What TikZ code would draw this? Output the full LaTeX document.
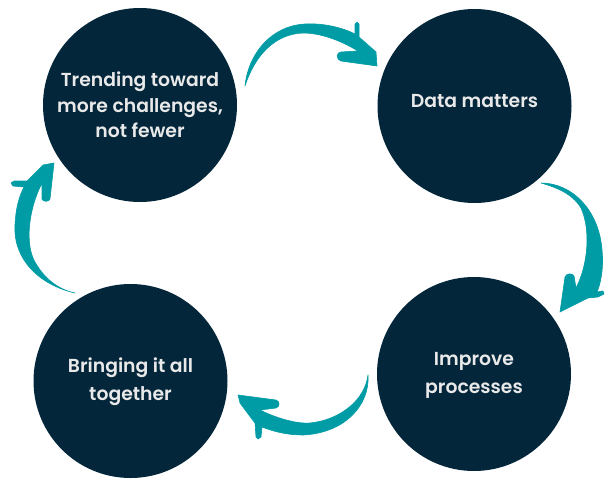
\documentclass[tikz,border=0pt]{standalone}
\usepackage{fontspec}
\setmainfont{Poppins SemiBold}
\definecolor{navy}{HTML}{03263B}
\definecolor{teal}{HTML}{009CA6}
\definecolor{txt}{HTML}{E9E9E9}
\newcommand{\stacktxt}[2]{\raisebox{#1}{\begin{tabular}{@{}c@{}}#2\end{tabular}}}
\begin{document}
\begin{tikzpicture}[x=1pt,y=-1pt,
  stage/.style={circle,fill=navy,minimum size=194pt,inner sep=0pt,text=txt,
    align=center,font=\fontsize{18.8}{28}\selectfont},
  brush/.style={fill=teal,draw=teal,line width=0.6pt,line join=round}]
\useasboundingbox (0,0) rectangle (610,488);
\node[stage,font=\fontsize{18.8}{25.5}\selectfont] (trend) at (140,105) {Trending toward\\more challenges,\\not fewer};
\node[stage] (data) at (474.5,106) {\raisebox{10pt}{Data matters}};
\node[stage] (improve) at (474,374) {\stacktxt{-2pt}{Improve\\processes}};
\node[stage] (bring) at (130.5,381) {\stacktxt{-3pt}{Bringing it all\\together}};
% arrow trend -> data
\fill[brush] (245,86) .. controls (248,55) and (270,26) .. (305,24)
  .. controls (325,23) and (343,28) .. (355,34) -- (355,24) -- (357,22) -- (359,24)
  -- (359,37) -- (376,52) -- (377,66) -- (341,61) .. controls (336,60) and (336,52) .. (341,52)
  -- (358,51) .. controls (340,40) and (320,33) .. (303,33)
  .. controls (275,34) and (255,55) .. (245,86) -- cycle;
% arrow data -> improve
\fill[brush] (541,183) .. controls (572,183) and (599,210) .. (602,250)
  .. controls (604,270) and (600,285) .. (597,292) -- (603,291) -- (604,294) -- (598,297)
  -- (588,298) -- (560,312) -- (565,277) .. controls (566,273) and (573,273) .. (574,276)
  -- (576,288) .. controls (588,265) and (591,230) .. (581,208)
  .. controls (572,193) and (555,187) .. (541,183) -- cycle;
% arrow improve -> bring
\fill[brush] (368,375) .. controls (370,405) and (345,433) .. (303,435)
  .. controls (288,435) and (275,432) .. (262,427) -- (261,437) -- (258,439) -- (256,437)
  -- (255,423) -- (240,403) -- (238,395) -- (276,400) .. controls (280,401) and (280,407) .. (276,408)
  -- (260,410) .. controls (280,420) and (300,424) .. (310,423)
  .. controls (340,420) and (365,400) .. (368,375) -- cycle;
% arrow bring -> trend
\fill[brush] (75,293) .. controls (40,285) and (13,260) .. (15,225)
  .. controls (16,205) and (20,195) .. (24,187) -- (13,186) -- (11,183) -- (14,181)
  -- (27,181) -- (43,165) -- (54,163) -- (50,199) .. controls (49,202) and (43,202) .. (42,199)
  -- (42,183) .. controls (28,210) and (25,245) .. (35,262)
  .. controls (45,280) and (60,290) .. (75,293) -- cycle;
\end{tikzpicture}
\end{document}
